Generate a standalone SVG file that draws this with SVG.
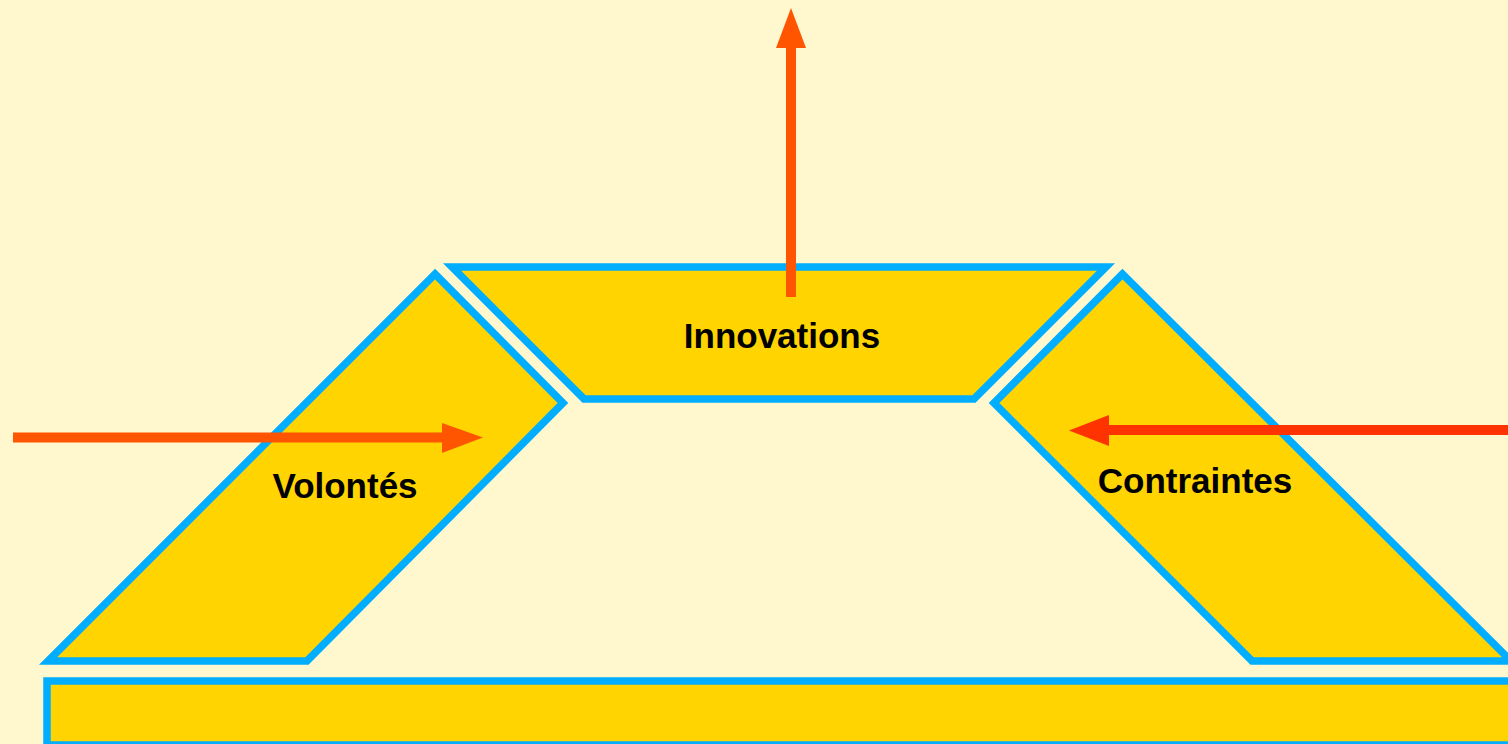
<svg xmlns="http://www.w3.org/2000/svg" width="1508" height="744" viewBox="0 0 1508 744">
<style>
.blk{fill:#FFD400;stroke:#00ADFF;stroke-width:7.5;stroke-linejoin:miter}
.lbl{font-family:"Liberation Sans",Arial,sans-serif;font-weight:bold;font-size:35px;fill:#000;text-anchor:middle}
.orange{fill:#FF5500}
.red{fill:#FF3300}
</style>
<rect x="0" y="0" width="1508" height="744" fill="#FFF8CF"/>
<g id="volontes">
<polygon class="blk" points="435,274 563,403 307,661 48,661"/>
<text class="lbl" x="345" y="498">Volontés</text>
</g>
<g id="innovations">
<polygon class="blk" points="452,267 1106,267 974,399 584,399"/>
<text class="lbl" x="782" y="348">Innovations</text>
</g>
<g id="contraintes">
<polygon class="blk" points="1122.5,274 994,403 1252,661 1511,661"/>
<text class="lbl" x="1195" y="493">Contraintes</text>
</g>
<g id="base">
<rect class="blk" x="47" y="681" width="1480" height="64"/>
</g>
<g id="connectors">
<rect class="orange" x="786" y="46" width="10" height="251"/>
<polygon class="orange" points="776,48 806,48 791,8"/>
<rect class="orange" x="13" y="432.5" width="431" height="10"/>
<polygon class="orange" points="442,423 442,453 483,437.5"/>
<rect class="red" x="1107" y="425" width="401" height="10"/>
<polygon class="red" points="1109,415 1109,446 1069,430.5"/>
</g>
</svg>
